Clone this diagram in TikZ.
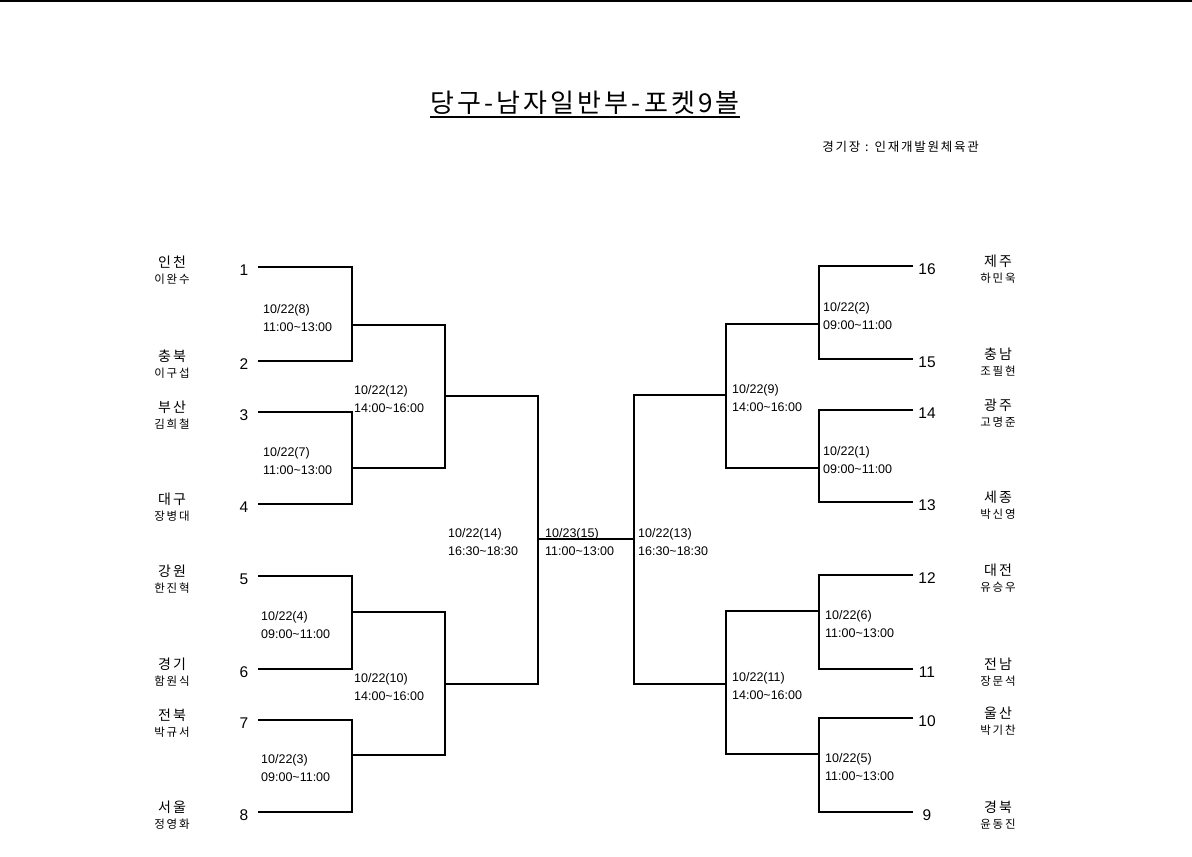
\documentclass[tikz,border=0pt]{standalone}
\usepackage{fontspec}
\setmainfont{Noto Sans CJK KR}
\newfontfamily\numfont{Liberation Sans}
\newfontfamily\titlefont[LetterSpace=12]{Noto Sans CJK KR}
\newfontfamily\namefont[LetterSpace=15]{Noto Sans CJK KR}
\newfontfamily\placefont[LetterSpace=14]{Noto Sans CJK KR}

\begin{document}
\begin{tikzpicture}[x=1pt,y=-1pt,
  bracket/.style={line width=2.8pt},
  seed/.style={inner sep=0pt,font=\numfont\fontsize{15.5}{15.5}\selectfont},
  team/.style={inner sep=0pt,font=\namefont\fontsize{14}{14}\selectfont},
  player/.style={inner sep=0pt,font=\namefont\fontsize{11.5}{11.5}\selectfont},
  game/.style={anchor=west,align=left,inner sep=0pt,font=\numfont\fontsize{12.5}{18}\selectfont}]

\useasboundingbox (0,0) rectangle (1192,857);
\draw[line width=2pt] (0,1) -- (1192,1);

\node [inner sep=0pt,font=\titlefont\fontsize{26}{26}\selectfont] (title) at (585,103) {당구-남자일반부-포켓9볼};
\coordinate (ul) at (0,117);
\draw[line width=1.6pt] (title.west |- ul) -- (title.east |- ul);
\node [inner sep=0pt,anchor=east,font=\placefont\fontsize{12.5}{12.5}\selectfont] (place) at (979,147) {경기장 : 인재개발원체육관};

\foreach \n/\y/\t/\p in {1/267/인천/이완수, 2/361/충북/이구섭, 3/412/부산/김희철, 4/504/대구/장병대,
  5/576/강원/한진혁, 6/669/경기/함원식, 7/720/전북/박규서, 8/812/서울/정영화} {
  \node [seed] (n\n) at (244,\y+3) {\n};
  \node [team] (t\n) at (172,\y-5) {\t};
  \node [player] (p\n) at (172,\y+12) {\p};
  \coordinate (e\n) at (258,\y);
}
\foreach \n/\y/\t/\p in {16/266/제주/하민욱, 15/359/충남/조필현, 14/410/광주/고명준, 13/502/세종/박신영,
  12/575/대전/유승우, 11/669/전남/장문석, 10/718/울산/박기찬, 9/812/경북/윤동진} {
  \node [seed] (n\n) at (927,\y+3) {\n};
  \node [team] (t\n) at (998,\y-5) {\t};
  \node [player] (p\n) at (998,\y+12) {\p};
  \coordinate (e\n) at (913,\y);
}

\foreach \m/\x/\y in {8/352/325, 7/352/468, 4/352/612, 3/352/755, 12/445/396, 10/445/684,
  14/538/539, 13/634/539, 9/726/395, 11/726/684, 2/819/324, 1/819/468, 6/819/611, 5/819/754}
  \coordinate (m\m) at (\x,\y);

\draw[bracket] (e1) -| (m8) |- (e2);
\draw[bracket] (e3) -| (m7) |- (e4);
\draw[bracket] (e5) -| (m4) |- (e6);
\draw[bracket] (e7) -| (m3) |- (e8);
\draw[bracket] (m8) -| (m12) |- (m7);
\draw[bracket] (m4) -| (m10) |- (m3);
\draw[bracket] (m12) -| (m14) |- (m10);
\draw[bracket,line width=2.2pt] (m14) -- (m13);
\draw[bracket] (m9) -| (m13) |- (m11);
\draw[bracket] (m2) -| (m9) |- (m1);
\draw[bracket] (m6) -| (m11) |- (m5);
\draw[bracket] (e16) -| (m2) |- (e15);
\draw[bracket] (e14) -| (m1) |- (e13);
\draw[bracket] (e12) -| (m6) |- (e11);
\draw[bracket] (e10) -| (m5) |- (e9);

\foreach \m/\x/\y/\d/\a/\b in {8/263/318/22/11:00/13:00, 7/263/461/22/11:00/13:00,
  4/261/625/22/09:00/11:00, 3/261/768/22/09:00/11:00, 12/354/399/22/14:00/16:00,
  10/354/687/22/14:00/16:00, 14/448/542/22/16:30/18:30, 15/545/542/23/11:00/13:00,
  13/638/542/22/16:30/18:30, 9/732/398/22/14:00/16:00, 11/732/686/22/14:00/16:00,
  2/823/316/22/09:00/11:00, 1/823/460/22/09:00/11:00, 6/825/624/22/11:00/13:00,
  5/825/767/22/11:00/13:00}
  \node [game] (l\m) at (\x,\y) {10/\d(\m)\\\a\textasciitilde\b};

\end{tikzpicture}
\end{document}
